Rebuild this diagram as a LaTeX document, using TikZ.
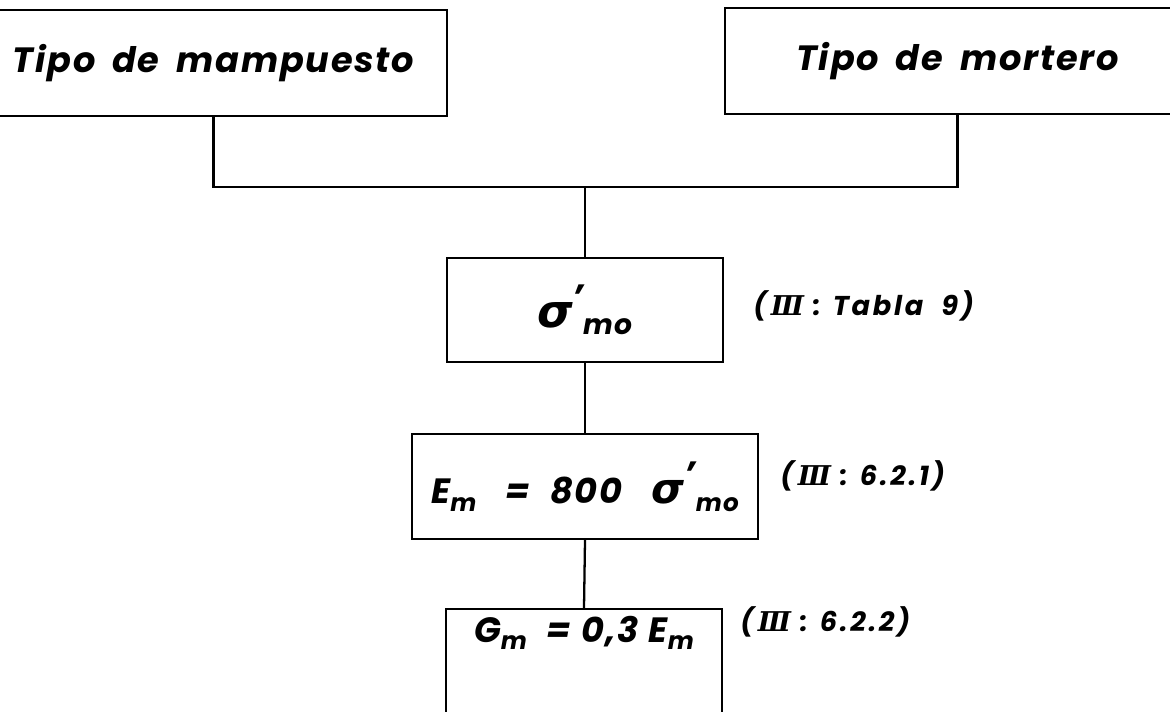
\documentclass[tikz,border=0pt]{standalone}
\usepackage{fontspec}
\setmainfont{Poppins}
\newfontfamily\gk{DejaVu Sans}
\newfontfamily\rn{DejaVu Serif}
\newcommand{\BI}{\bfseries\itshape}
\newcommand{\wsp}{\ \hspace{4pt}}
\newcommand{\subm}[2]{\raisebox{-0.22em}{\fontsize{#1}{#1}\selectfont\BI #2}}
\newcommand{\sigp}[2]{{\fontsize{#2}{#2}\selectfont\gk\BI σ}\raisebox{0.5em}{\BI '}\subm{#1}{mo}}
\newcommand{\rIII}{{\rn\bfseries Ⅲ}}
\tikzset{
  box/.style={draw, line width=1.3pt, inner sep=0pt},
  conn/.style={line width=1.3pt},
  big/.style={font=\fontsize{20}{24}\selectfont\BI\addfontfeatures{LetterSpace=5}},
  lbl/.style={font=\fontsize{15.5}{18}\selectfont\BI\addfontfeatures{LetterSpace=10}, anchor=west, inner sep=0pt},
}
\begin{document}
\begin{tikzpicture}[x=0.02cm,y=-0.02cm]
\useasboundingbox (0,0) rectangle (1170,711);
\clip (0,0) rectangle (1170,711);
\node[box,big,minimum width=9.34cm,minimum height=2.12cm] (lbox) at (213.5,63) {Tipo\wsp{}de\wsp{}mampuesto};
\node[box,big,minimum width=9.3cm,minimum height=2.12cm] (rbox) at (957.5,61) {Tipo\wsp{}de\wsp{}mortero};
\node[box,big,minimum width=5.52cm,minimum height=2.08cm] (sbox) at (585,310) {\sigp{16}{26}};
\node[box,big,minimum width=6.92cm,minimum height=2.1cm] (ebox) at (585,486.5) {E\subm{14}{m}\ \ \ =\ \ 800\ \ \ \sigp{14}{24}};
\node[box,big,anchor=north,minimum width=5.52cm,inner ysep=0pt,text height=0.66cm,text depth=1.46cm] (gbox) at (584,608) {G\subm{14}{m}\ \ =\ 0,3\ E\subm{14}{m}};
\coordinate (j) at (585,187);
\draw[conn] (lbox.south) |- (j) -| (rbox.south);
\draw[conn] (j) -- (sbox.north);
\draw[conn] (sbox.south) -- (ebox.north);
\draw[conn] (ebox.south) -- (gbox.north);
\node[lbl] (l1) at (753,306) {(\,\rIII\ : Tabla \ 9)};
\node[lbl] (l2) at (780,476) {(\,\rIII\ : 6.2.1)};
\node[lbl] (l3) at (740,622) {(\,\rIII\ : 6.2.2)};
\end{tikzpicture}
\end{document}
